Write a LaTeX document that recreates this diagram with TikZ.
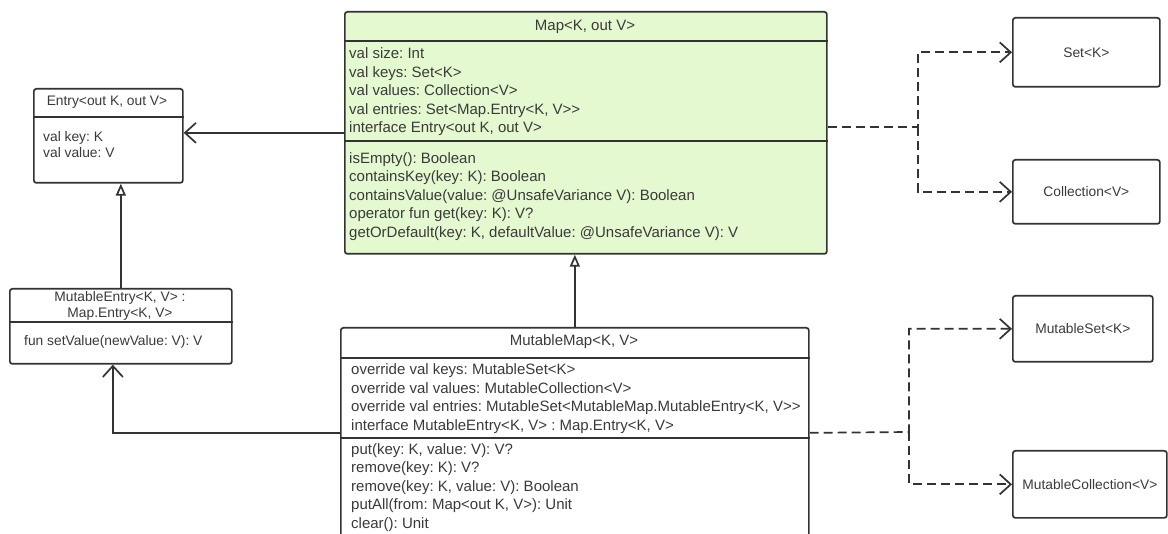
\documentclass[tikz,border=0pt]{standalone}
\usepackage{fontspec}
\setmainfont{Liberation Sans}
\usetikzlibrary{arrows.meta, positioning}
\frenchspacing

\definecolor{linegray}{HTML}{333333}
\definecolor{textgray}{HTML}{3A3A3A}
\definecolor{mapgreen}{HTML}{E4F9D0}

\newcommand{\bigtext}{\fontsize{15}{18.5}\selectfont}
\newcommand{\smalltext}{\fontsize{13.8}{16}\selectfont}

\tikzset{
  classbox/.style={draw=linegray, line width=1.7pt, rounded corners=2.5pt, anchor=north west, inner sep=0pt},
  divider/.style={draw=linegray, line width=1.7pt},
  classname/.style={text=textgray, inner sep=0pt, align=center},
  members/.style={text=textgray, inner sep=0pt, anchor=north west, align=left},
  usesarrow/.style={draw=linegray, line width=1.7pt, -{Straight Barb[length=11pt,width=20pt]}},
  inheritarrow/.style={draw=linegray, line width=1.7pt, -{Triangle[length=12pt,width=10pt,fill=white]}},
  dependarrow/.style={draw=linegray, line width=1.7pt, dash pattern=on 9pt off 5pt, -{Straight Barb[length=11pt,width=20pt]}},
}

\begin{document}
\begin{tikzpicture}[x=1pt, y=-1pt]
  \clip (0,0) rectangle (1168,534);
  % Boxes
  \node[classbox, minimum width=149, minimum height=94] (entry) at (33,88) {};
  \node[classbox, fill=mapgreen, minimum width=482, minimum height=242] (map) at (344,11) {};
  \node[classbox, minimum width=147, minimum height=69] (set) at (1012,17) {};
  \node[classbox, minimum width=147, minimum height=64] (coll) at (1012,159) {};
  \node[classbox, minimum width=222, minimum height=75] (mentry) at (9,288) {};
  \node[classbox, minimum width=468, minimum height=210] (mmap) at (340,327) {};
  \node[classbox, minimum width=140, minimum height=66] (mset) at (1012,295) {};
  \node[classbox, minimum width=154, minimum height=67] (mcoll) at (1012,450) {};
  % Dividers
  \draw[divider] (entry.west |- 0,117) -- (entry.east |- 0,117);
  \draw[divider] (map.west |- 0,41) -- (map.east |- 0,41);
  \draw[divider] (map.west |- 0,141) -- (map.east |- 0,141);
  \draw[divider] (mentry.west |- 0,322) -- (mentry.east |- 0,322);
  \draw[divider] (mmap.west |- 0,358) -- (mmap.east |- 0,358);
  \draw[divider] (mmap.west |- 0,438) -- (mmap.east |- 0,438);
  % Names
  \node[classname, font=\smalltext] (entry-name) at (107,102) {Entry<out K, out V>};
  \node[classname, font=\bigtext] (map-name) at (585,27) {Map<K, out V>};
  \node[classname, font=\smalltext] (set-name) at (set.center) {Set<K>};
  \node[classname, font=\smalltext] (coll-name) at (coll.center) {Collection<V>};
  \node[classname, font=\smalltext] (mentry-name) at (120,306) {MutableEntry<K, V> :\\Map.Entry<K, V>};
  \node[classname, font=\bigtext] (mmap-name) at (574,342) {MutableMap<K, V>};
  \node[classname, font=\smalltext] (mset-name) at (mset.center) {MutableSet<K>};
  \node[classname, font=\smalltext] (mcoll-name) at (mcoll.center) {MutableCollection<V>};
  % Members
  \node[members, font=\smalltext] (entry-props) at (43,131) {val key: K\\val value: V};
  \node[members, font=\bigtext] (map-props) at (349,47.5) {val size: Int\\val keys: Set<K>\\val values: Collection<V>\\val entries: Set<Map.Entry<K, V>{}>\\interface Entry<out K, out V>};
  \node[members, font=\bigtext] (map-funs) at (349,152) {isEmpty(): Boolean\\containsKey(key: K): Boolean\\containsValue(value: @UnsafeVariance V): Boolean\\operator fun get(key: K): V?\\getOrDefault(key: K, defaultValue: @UnsafeVariance V): V};
  \node[members, font=\smalltext] (mentry-funs) at (24,335) {fun setValue(newValue: V): V};
  \node[members, font=\bigtext] (mmap-props) at (351,363.5) {override val keys: MutableSet<K>\\override val values: MutableCollection<V>\\override val entries: MutableSet<MutableMap.MutableEntry<K, V>{}>\\interface MutableEntry<K, V> : Map.Entry<K, V>};
  \node[members, font=\bigtext] (mmap-funs) at (351,443) {put(key: K, value: V): V?\\remove(key: K): V?\\remove(key: K, value: V): Boolean\\putAll(from: Map<out K, V>): Unit\\clear(): Unit};
  % Connectors
  \coordinate (map-fork) at (918,127);
  \coordinate (mmap-fork) at (909,432);
  \draw[usesarrow] (map.west) -- (map.west -| entry.east);
  \draw[inheritarrow] (mentry.north) -- (mentry.north |- entry.south);
  \draw[inheritarrow] (mmap.north) -- (mmap.north |- map.south);
  \draw[usesarrow] (mmap.west) -| ([xshift=-8pt]mentry.south);
  \draw[dependarrow] (map.east |- map-fork) -- (map-fork) |- (set.west);
  \draw[dependarrow] (map-fork) |- (coll.west);
  \draw[dependarrow] (mmap.east) -- (mmap-fork) |- (mset.west);
  \draw[dependarrow] (mmap-fork) |- (mcoll.west);
\end{tikzpicture}
\end{document}
